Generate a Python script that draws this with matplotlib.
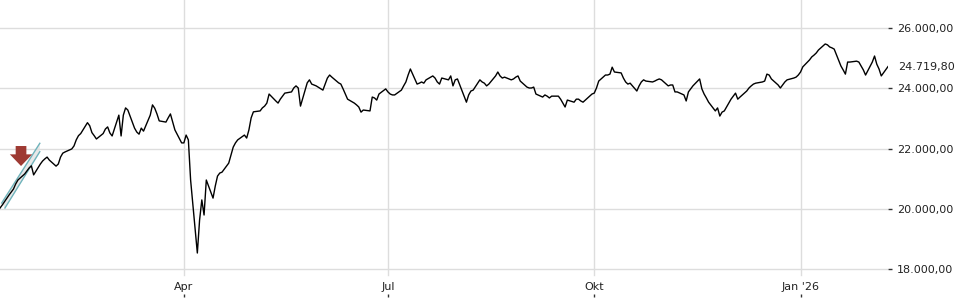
import matplotlib
matplotlib.use("Agg")
import matplotlib.pyplot as plt
import matplotlib.transforms as mtransforms
from matplotlib.ticker import FuncFormatter
import pandas as pd

# daily closes
jan25 = [20030, 20130, 20460, 20560, 20660, 20830, 20960, 21160, 21260, 21360, 21430, 21130,
         21490, 21590, 21660, 21720, 21620]
feb25 = [21420, 21490, 21720, 21850, 21890, 21990, 22090, 22290, 22430, 22500, 22860, 22760,
         22530, 22430, 22320, 22500, 22650, 22720, 22520, 22420]
mar25 = [23110, 22420, 23110, 23350, 23280, 22680, 22550, 22480, 22680, 22580, 23110, 23450,
         23340, 23150, 22920, 22880, 23020, 23150, 22880, 22620, 22190]
apr25 = [22190, 22450, 22290, 20960, 18540, 19630, 20300, 19800, 20960, 20360, 20760, 21090,
         21190, 21220, 21520, 21790, 22050, 22190, 22290, 22450, 22350, 22620]
may25 = [23020, 23220, 23250, 23350, 23410, 23510, 23810, 23580, 23510, 23640, 23740, 23840,
         23880, 24010, 24080, 24010, 23410, 24180, 24280, 24140, 24110, 24080]
jun25 = [23940, 24140, 24340, 24440, 24370, 24180, 24140, 23980, 23810, 23640, 23510, 23450,
         23380, 23210, 23280, 23250, 23710, 23680, 23610, 23810, 23980]
jul25 = [23880, 23810, 23780, 23780, 23940, 24080, 24210, 24440, 24640, 24140, 24170, 24210,
         24170, 24280, 24410, 24340, 24210, 24140, 24340, 24280, 24410, 24080, 24280]
aug25 = [24310, 23740, 23540, 23780, 23910, 23940, 24280, 24210, 24170, 24080, 24140, 24410,
         24540, 24410, 24340, 24370, 24280, 24310, 24370, 24410, 24240]
sep25 = [24040, 24010, 24010, 24040, 23810, 23710, 23780, 23740, 23680, 23740, 23740, 23640,
         23510, 23380, 23610, 23540, 23640, 23640, 23580, 23540, 23740, 23810]
oct25 = [23840, 24010, 24240, 24440, 24440, 24470, 24700, 24540, 24510, 24340, 24210, 24140,
         24170, 23910, 24080, 24210, 24280, 24240, 24210, 24240, 24280, 24310, 24280]
nov25 = [24080, 24110, 24110, 23880, 23880, 23780, 23580, 23880, 23980, 24080, 24310, 23980,
         23810, 23680, 23540, 23250, 23350, 23080, 23210, 23250]
dec25 = [23640, 23740, 23840, 23640, 23710, 23910, 24010, 24080, 24140, 24170, 24210, 24240,
         24470, 24440, 24310, 24110, 24010, 24110, 24210, 24280, 24340, 24370, 24440]
jan26 = [24540, 24710, 24940, 25040, 25100, 25170, 25270, 25470, 25440, 25370, 25340, 25300,
         24740, 24610, 24470, 24870, 24870, 24900, 24870, 24740, 24610, 24440]
feb26 = [24870, 25070, 24800, 24640, 24410, 24719.80]

closes = (jan25 + feb25 + mar25 + apr25 + may25 + jun25 + jul25 + aug25 + sep25 + oct25
          + nov25 + dec25 + jan26 + feb26)
dates = pd.bdate_range("2025-01-09", "2026-02-09")

y_ticks = [18000, 20000, 22000, 24000, 26000]
month_ticks = ["2025-04-01", "2025-07-01", "2025-10-01", "2026-01-01"]
month_labels = ["Apr", "Jul", "Okt", "Jan '26"]

# drawn trend channel + marker arrow
channel_dates = ["2025-01-09 18:00", "2025-01-26 18:00"]
channel_upper = [20198, 22177]
channel_lower = [20032, 21898]
channel_lower_start = "2025-01-11 05:00"
arrow_date = "2025-01-18 09:00"
arrow_from = 22087
arrow_to = 21424


def de_fmt(v, pos=None):
    s = f"{v:,.2f}"
    return s.replace(",", "X").replace(".", ",").replace("X", ".")


fig = plt.figure(figsize=(9.6, 3.0), dpi=100)
ax = fig.add_axes([0, 3 / 300, 888 / 960, 297 / 300])

ax.plot(dates, closes, color="black", lw=1.0, zorder=3)

# channel
cd = pd.to_datetime(channel_dates)
ld = pd.to_datetime([channel_lower_start, channel_dates[1]])
ax.plot(cd, channel_upper, color="#6fb3bb", lw=1.0, zorder=2)
ax.plot(ld, channel_lower, color="#6fb3bb", lw=1.0, zorder=2)
ax.fill([cd[0], cd[1], ld[1], ld[0]],
        [channel_upper[0], channel_upper[1], channel_lower[1], channel_lower[0]],
        color="#d9d9d9", alpha=0.6, lw=0, zorder=1)

ax.annotate("", xy=(pd.Timestamp(arrow_date), arrow_to),
            xytext=(pd.Timestamp(arrow_date), arrow_from),
            arrowprops=dict(arrowstyle="simple,head_length=0.6,head_width=1.15,tail_width=0.55",
                            color="#9e3a33", lw=0, shrinkA=0, shrinkB=0, mutation_scale=14),
            zorder=4)

ax.set_xlim(pd.Timestamp("2025-01-09"), pd.Timestamp("2026-02-09"))
ax.set_ylim(17082, 26927)

for s in ax.spines.values():
    s.set_visible(False)

ax.yaxis.tick_right()
ax.set_yticks(y_ticks)
ax.yaxis.set_major_formatter(FuncFormatter(de_fmt))
ax.tick_params(axis="y", direction="out", length=2.9, width=1, color="#333333",
               pad=3.6, labelsize=8, labelcolor="#222222")
ax.grid(axis="y", color="#dddddd", lw=1)

mt = pd.to_datetime(month_ticks)
ax.set_xticks(mt)
ax.set_xticklabels(month_labels)
ax.tick_params(axis="x", direction="in", length=2.4, width=1, color="#333333",
               pad=-10.5, labelsize=8, labelcolor="#222222")
for d in mt:
    ax.axvline(d, ymin=22 / 297, ymax=1, color="#dddddd", lw=1, zorder=0)

trans = mtransforms.blended_transform_factory(ax.transAxes, ax.transData)
ax.annotate(de_fmt(closes[-1]), xy=(1, closes[-1]), xycoords=trans,
            xytext=(7.2, 0), textcoords="offset points",
            va="center", ha="left", fontsize=8, color="#222222", annotation_clip=False)

fig.savefig("out.png", dpi=100)
